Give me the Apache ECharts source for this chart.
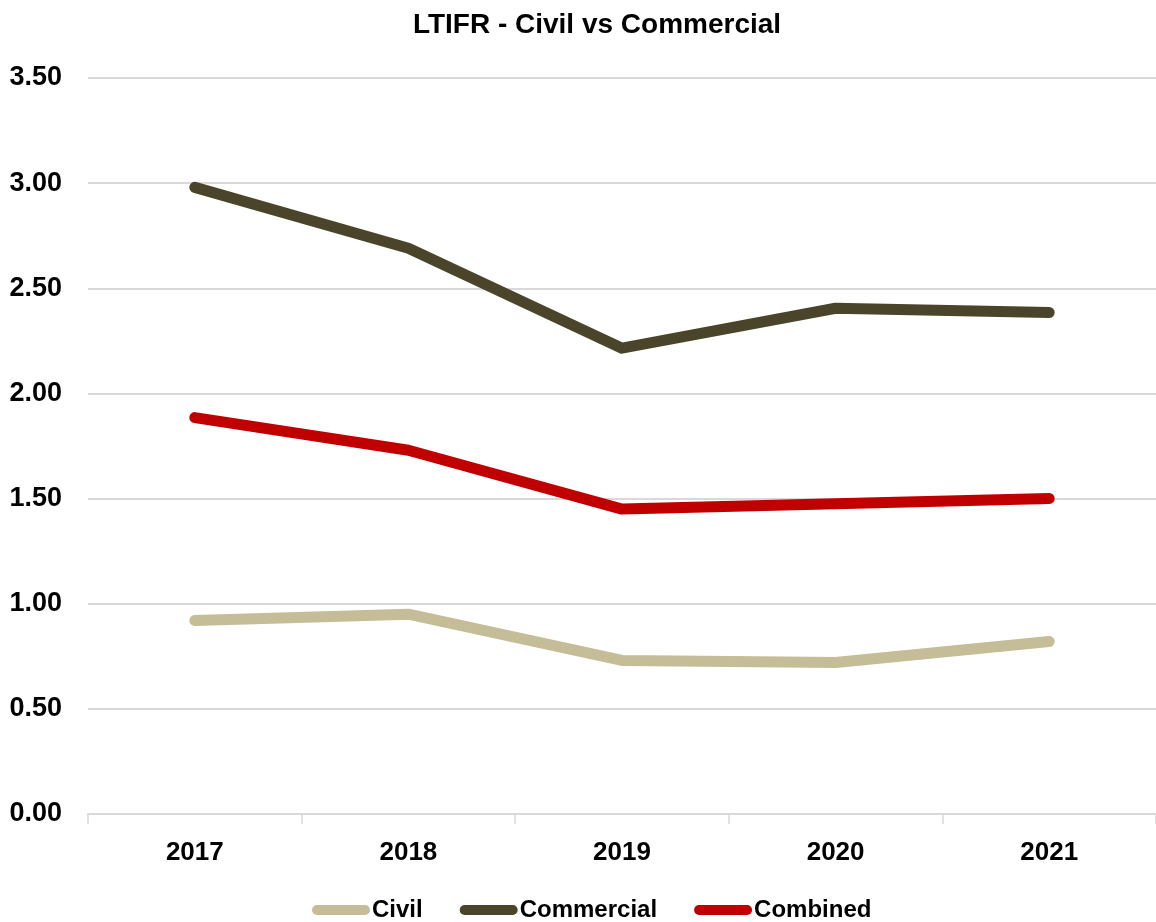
<!DOCTYPE html>
<html><head><meta charset="utf-8">
<script src="https://cdn.jsdelivr.net/npm/echarts@6/dist/echarts.min.js"></script>
<style>html,body{margin:0;padding:0;background:#fff}#c{width:1156px;height:922px}</style>
</head><body><div id="c"></div>
<script>
const years = ['2017','2018','2019','2020','2021'];
const civil = [0.92, 0.95, 0.73, 0.72, 0.82];
const commercial = [2.98, 2.69, 2.215, 2.405, 2.385];
const combined = [1.885, 1.73, 1.45, 1.475, 1.50];
const yTicks = {min: 0, max: 3.5, interval: 0.5};

const FONT = '"Liberation Sans", Arial, sans-serif';
const capsule = 'path://M5,0 H53 A5,5 0 0 1 53,10 H5 A5,5 0 0 1 5,0 Z';
const chart = echarts.init(document.getElementById('c'));
function mk(name, data, color){
  return {name, type:'line', data, symbol:'none', smooth:false,
    lineStyle:{color, width:11, cap:'round', join:'round'}, itemStyle:{color}};
}
chart.setOption({
  animation:false,
  title:{text:'LTIFR - Civil vs Commercial', left:592, top:6, textAlign:'center',
    textStyle:{fontFamily:FONT, fontWeight:'bold', fontSize:28, color:'#000'}},
  grid:{left:88, right:-4, top:78, bottom:108},
  legend:{top:893, left:307, itemWidth:58, itemHeight:11, itemGap:37,
    icon:capsule, data:['Civil','Commercial','Combined'],
    textStyle:{fontFamily:FONT, fontWeight:'bold', fontSize:24, color:'#000', padding:[0,0,0,-3]}},
  xAxis:{type:'category', data:years, boundaryGap:true,
    axisLine:{lineStyle:{color:'#D9D9D9', width:2}},
    axisTick:{show:true, length:10, lineStyle:{color:'#D9D9D9', width:1.5}},
    axisLabel:{margin:26, fontFamily:FONT, fontWeight:'bold', fontSize:26, color:'#000'}},
  yAxis:{type:'value', min:yTicks.min, max:yTicks.max, interval:yTicks.interval,
    axisLine:{show:false}, axisTick:{show:false},
    splitLine:{lineStyle:{color:'#D9D9D9', width:2}},
    axisLabel:{margin:26, fontFamily:FONT, fontWeight:'bold', fontSize:27, color:'#000',
      formatter:v=>v.toFixed(2)}},
  series:[mk('Civil', civil, '#C4BD97'), mk('Commercial', commercial, '#4A452A'), mk('Combined', combined, '#C00000')]
});
</script></body></html>
